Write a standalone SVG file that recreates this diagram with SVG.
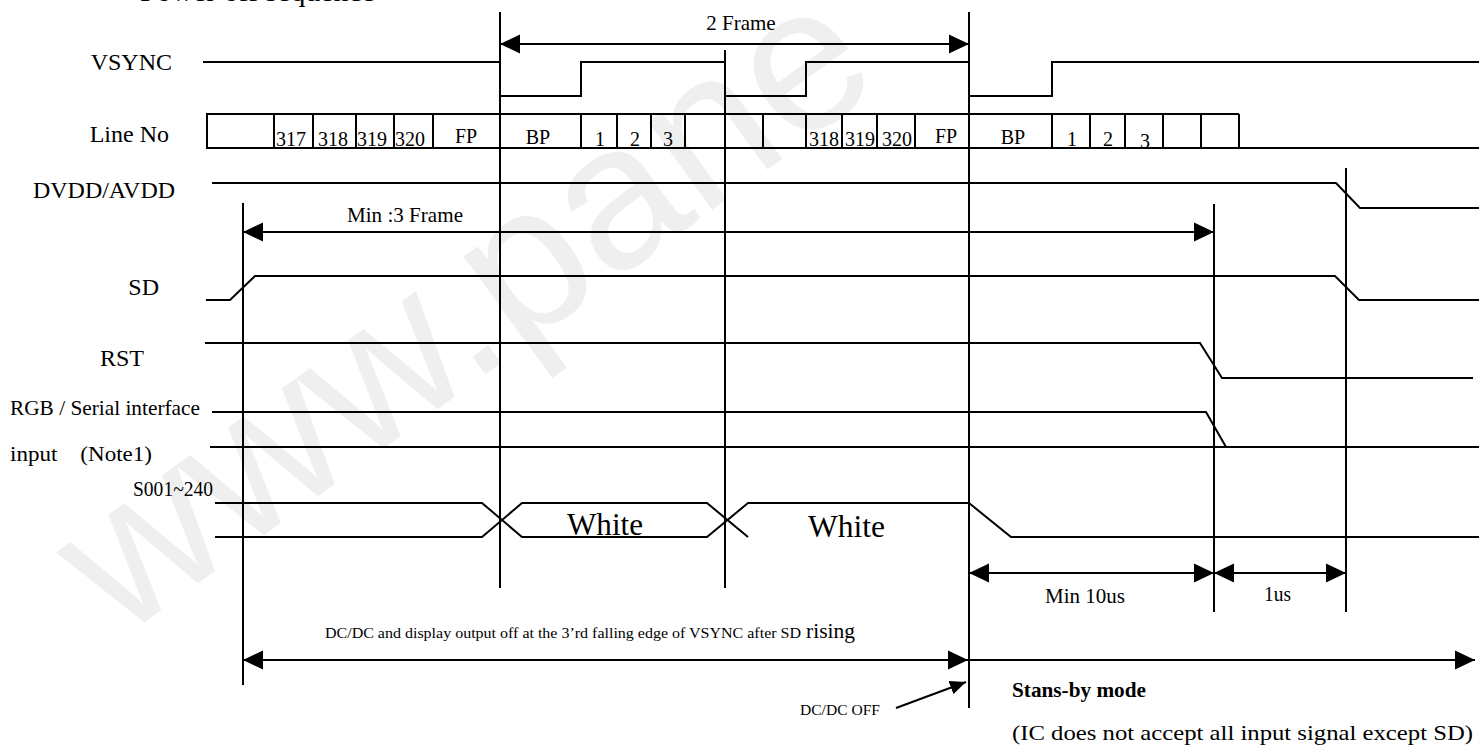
<svg xmlns="http://www.w3.org/2000/svg" width="1479" height="749" viewBox="0 0 1479 749">
<defs>
<style>
.w{stroke:#000;stroke-width:2;fill:none}
.t{font-family:"Liberation Serif","Times New Roman",serif;fill:#000}
.lbl{font-size:24px}
.ann{font-size:21px}
.num{font-size:20px}
.wm{font-family:"Liberation Sans",Arial,sans-serif;font-size:205px;fill:#efefef}
</style>
<marker id="ah" viewBox="0 0 20 20" refX="20" refY="10" markerWidth="20" markerHeight="20" markerUnits="userSpaceOnUse" orient="auto-start-reverse">
<path d="M0,0.5 L20,10 L0,19.5 z" fill="#000"/>
</marker>
<marker id="ahs" viewBox="0 0 16 14" refX="16" refY="7" markerWidth="16" markerHeight="14" markerUnits="userSpaceOnUse" orient="auto">
<path d="M0,0 L16,7 L0,14 z" fill="#000"/>
</marker>
</defs>
<rect width="1479" height="749" fill="#fff"/>
<text class="wm" transform="translate(120,640) rotate(-36)">www.pane</text>
<text class="t" x="140" y="1" font-size="28" textLength="235" lengthAdjust="spacingAndGlyphs">Power off sequence</text>

<g id="labels">
<text class="t lbl" x="172" y="70" text-anchor="end">VSYNC</text>
<text class="t lbl" x="169" y="142" text-anchor="end">Line No</text>
<text class="t lbl" x="33" y="198" textLength="142" lengthAdjust="spacingAndGlyphs">DVDD/AVDD</text>
<text class="t lbl" x="159" y="295" text-anchor="end">SD</text>
<text class="t lbl" x="144" y="366" text-anchor="end">RST</text>
<text class="t" x="10" y="415" font-size="22" textLength="190" lengthAdjust="spacingAndGlyphs">RGB / Serial interface</text>
<text class="t" x="10" y="461" font-size="22" xml:space="preserve" textLength="142" lengthAdjust="spacingAndGlyphs">input    (Note1)</text>
<text class="t" x="133" y="496" font-size="21" textLength="80" lengthAdjust="spacingAndGlyphs">S001~240</text>
</g>

<g id="vsync">
<polyline class="w" points="203,62 500,62 500,96 581,96 581,62 725,62 725,96 806,96 806,62 969,62 969,96 1052,96 1052,62 1479,62"/>
</g>

<g id="lineno">
<polyline class="w" points="1239,114 207,114 207,148 1479,148"/>
<g class="w">
<line x1="274" y1="114" x2="274" y2="148"/><line x1="313" y1="114" x2="313" y2="148"/><line x1="356" y1="114" x2="356" y2="148"/><line x1="394" y1="114" x2="394" y2="148"/><line x1="433" y1="114" x2="433" y2="148"/>
<line x1="581" y1="114" x2="581" y2="148"/><line x1="617" y1="114" x2="617" y2="148"/><line x1="651" y1="114" x2="651" y2="148"/><line x1="685" y1="114" x2="685" y2="148"/>
<line x1="763" y1="114" x2="763" y2="148"/><line x1="806" y1="114" x2="806" y2="148"/><line x1="842" y1="114" x2="842" y2="148"/><line x1="877" y1="114" x2="877" y2="148"/><line x1="915" y1="114" x2="915" y2="148"/>
<line x1="1052" y1="114" x2="1052" y2="148"/><line x1="1090" y1="114" x2="1090" y2="148"/><line x1="1125" y1="114" x2="1125" y2="148"/><line x1="1163" y1="114" x2="1163" y2="148"/><line x1="1201" y1="114" x2="1201" y2="148"/><line x1="1239" y1="114" x2="1239" y2="148"/>
</g>
<g class="t num">
<text x="276" y="146">317</text><text x="318" y="146">318</text><text x="357" y="146">319</text><text x="395" y="146">320</text>
<text x="466" y="143" text-anchor="middle">FP</text>
<text x="538" y="144" text-anchor="middle">BP</text>
<text x="600" y="146" text-anchor="middle">1</text><text x="635" y="146" text-anchor="middle">2</text><text x="668" y="146" text-anchor="middle">3</text>
<text x="809" y="146">318</text><text x="845" y="146">319</text><text x="882" y="146">320</text>
<text x="946" y="143" text-anchor="middle">FP</text>
<text x="1013" y="144" text-anchor="middle">BP</text>
<text x="1072" y="146" text-anchor="middle">1</text><text x="1108" y="146" text-anchor="middle">2</text><text x="1145" y="148" text-anchor="middle">3</text>
</g>
</g>

<g id="dvdd"><polyline class="w" points="212,183 1336,183 1360,208 1479,208"/></g>
<g id="sd"><polyline class="w" points="206,300 230,300 255,276 1335,276 1359,300 1479,300"/></g>
<g id="rst"><polyline class="w" points="205,343 1200,343 1222,378 1473,378"/></g>
<g id="rgb">
<polyline class="w" points="212,412 1206,412 1226,447"/>
<line class="w" x1="210" y1="447" x2="1479" y2="447"/>
</g>
<g id="s001">
<polyline class="w" points="215,503 482,503 522,537 707,537 748,503 969,503 1011,537 1479,537"/>
<polyline class="w" points="215,537 482,537 522,503 707,503 748,537"/>
<text class="t" x="567" y="535" font-size="32" textLength="76" lengthAdjust="spacingAndGlyphs">White</text>
<text class="t" x="808" y="537" font-size="32" textLength="77" lengthAdjust="spacingAndGlyphs">White</text>
</g>

<g id="connectors">
<g class="w">
<line x1="500" y1="12" x2="500" y2="588"/>
<line x1="725" y1="50" x2="725" y2="588"/>
<line x1="969" y1="12" x2="969" y2="708"/>
<line x1="243" y1="203" x2="243" y2="685"/>
<line x1="1214" y1="204" x2="1214" y2="612"/>
<line x1="1346" y1="168" x2="1346" y2="612"/>
<line x1="500" y1="44" x2="969" y2="44" marker-start="url(#ah)" marker-end="url(#ah)"/>
<line x1="243" y1="232" x2="1214" y2="232" marker-start="url(#ah)" marker-end="url(#ah)"/>
<line x1="969" y1="573" x2="1214" y2="573" marker-start="url(#ah)" marker-end="url(#ah)"/>
<line x1="1214" y1="573" x2="1346" y2="573" marker-start="url(#ah)" marker-end="url(#ah)"/>
<line x1="243" y1="660" x2="968" y2="660" marker-start="url(#ah)" marker-end="url(#ah)"/>
<line x1="969" y1="660" x2="1475" y2="660" marker-end="url(#ah)"/>
<line x1="896" y1="708" x2="966" y2="682" marker-end="url(#ahs)"/>
</g>
</g>

<g id="annotations">
<text class="t ann" x="741" y="30" text-anchor="middle">2 Frame</text>
<text class="t ann" x="347" y="222" textLength="116" lengthAdjust="spacingAndGlyphs">Min :3 Frame</text>
<text class="t ann" x="1045" y="603" textLength="80" lengthAdjust="spacingAndGlyphs">Min 10us</text>
<text class="t ann" x="1264" y="601" textLength="27" lengthAdjust="spacingAndGlyphs">1us</text>
<text class="t" x="325" y="638" font-size="15" textLength="476" lengthAdjust="spacingAndGlyphs">DC/DC and display output off at the 3’rd falling edge of VSYNC after SD</text>
<text class="t" x="806" y="638" font-size="21" textLength="49" lengthAdjust="spacingAndGlyphs">rising</text>
<text class="t" x="800" y="715" font-size="14" textLength="80" lengthAdjust="spacingAndGlyphs">DC/DC OFF</text>
<text class="t" x="1012" y="697" font-size="21" font-weight="bold" textLength="134" lengthAdjust="spacingAndGlyphs">Stans-by mode</text>
<text class="t" x="1012" y="740" font-size="22" textLength="461" lengthAdjust="spacingAndGlyphs">(IC does not accept all input signal except SD)</text>
</g>
</svg>
